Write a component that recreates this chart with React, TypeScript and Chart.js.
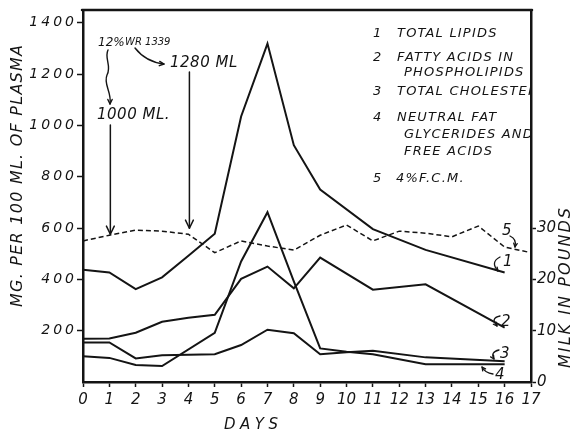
import React, { useEffect, useRef } from "react";
import { Chart, registerables } from "chart.js";

Chart.register(...registerables);

// ---------- data ----------
const DAYS = [0, 1, 2, 3, 4, 5, 6, 7, 8, 9, 10, 11, 12, 13, 14, 15, 16, 17];
// mg per 100 ml of plasma (null = no reading that day)
const TOTAL_LIPIDS = [438, 427, 362, 408, 492, 578, 1035, 1319, 923, 750, null, 596, null, 515, null, null, 427, null];
const PHOSPHOLIPID_FA = [169, 170, 192, 235, 250, 262, 402, 450, 365, 485, null, 360, null, 381, null, null, 212, null];
const TOTAL_CHOLESTEROL = [154, 154, 92, 104, null, 108, 144, 204, 190, 108, 116, 122, null, 96, null, null, 81, null];
const NEUTRAL_FAT = [100, 94, 66, 62, null, 192, 470, 662, 392, 131, 118, 108, null, 69, null, null, 69, null];
// milk, pounds of 4% fat-corrected milk
const MILK_FCM = [27.5, 28.6, 29.6, 29.4, 28.8, 25.2, 27.5, 26.5, 25.7, 28.6, 30.6, 27.5, 29.4, 29.0, 28.3, 30.4, 26.3, 25.2];

const LEFT_TICKS = [200, 400, 600, 800, 1000, 1200, 1400];
const RIGHT_TICKS = [0, 10, 20, 30];
const X_TICKS = DAYS;

const LEGEND_NUMBERS = ["1", "2", "3", "4", "5"];
const LEGEND_LINES = [
  ["TOTAL LIPIDS"],
  ["FATTY ACIDS IN", "PHOSPHOLIPIDS"],
  ["TOTAL CHOLESTEROL"],
  ["NEUTRAL FAT", "GLYCERIDES AND", "FREE ACIDS"],
  ["4%F.C.M."],
];

const Y_TITLE = "MG. PER 100 ML. OF PLASMA";
const Y2_TITLE = "MILK IN POUNDS";
const X_TITLE = "DAYS";
const DOSE_NOTE = "12%";
const DOSE_NOTE_2 = "WR 1339";
const DOSE_1 = "1000 ML.";
const DOSE_2 = "1280 ML";
const DOSE_DAYS = [1, 4];

const INK = "#141414";
const FAMILY = "'DejaVu Sans', sans-serif";

function pts(values: (number | null)[]) {
  return DAYS.map((d, i) => ({ x: d, y: values[i] })).filter((p) => p.y !== null && p.y !== undefined);
}

function arrowHead(ctx: CanvasRenderingContext2D, x: number, y: number, angle: number, size = 7) {
  ctx.beginPath();
  ctx.moveTo(x - size * Math.cos(angle - 0.45), y - size * Math.sin(angle - 0.45));
  ctx.lineTo(x, y);
  ctx.lineTo(x - size * Math.cos(angle + 0.45), y - size * Math.sin(angle + 0.45));
  ctx.stroke();
}

function font(size: number) {
  return `italic ${size}px ${FAMILY}`;
}

function fitText(ctx: CanvasRenderingContext2D, text: string, cx: number, cy: number, width: number) {
  ctx.letterSpacing = "0px";
  const m = ctx.measureText(text).width;
  const ls = Math.max(0, (width - m) / Math.max(1, text.length - 1));
  ctx.letterSpacing = ls + "px";
  ctx.textAlign = "left";
  ctx.fillText(text, cx - width / 2, cy);
  ctx.letterSpacing = "0px";
}

const plain = (v: any) => String(v);

const tickSpacing = {
  id: "tickSpacing",
  beforeDraw(chart: any) {
    const s = chart.scales.y;
    if (s && !s._spaced) {
      const orig = s.drawLabels;
      s.drawLabels = function (area: any) {
        const c = this.ctx;
        c.save();
        c.letterSpacing = "3px";
        orig.call(this, area);
        c.restore();
      };
      s._spaced = true;
    }
  },
};

const decorations = {
  id: "decorations",
  afterDraw(chart: any) {
    const ctx: CanvasRenderingContext2D = chart.ctx;
    const area = chart.chartArea;
    const xs = chart.scales.x;
    const y2 = chart.scales.y2;
    ctx.save();
    ctx.fillStyle = INK;
    ctx.strokeStyle = INK;
    ctx.lineCap = "round";
    ctx.lineJoin = "round";

    // top frame line
    ctx.lineWidth = 2.5;
    ctx.beginPath();
    ctx.moveTo(area.left - 1, area.top);
    ctx.lineTo(area.right + 1, area.top);
    ctx.stroke();

    // axis titles
    ctx.textBaseline = "middle";
    ctx.font = font(16);
    ctx.save();
    ctx.translate(18, 176);
    ctx.rotate(-Math.PI / 2);
    fitText(ctx, Y_TITLE, 0, 0, 262);
    ctx.restore();

    ctx.save();
    ctx.translate(566, 288);
    ctx.rotate(-Math.PI / 2);
    fitText(ctx, Y2_TITLE, 0, 0, 160);
    ctx.restore();

    ctx.font = font(15);
    fitText(ctx, X_TITLE, 251, 425, 54);

    // legend
    ctx.save();
    ctx.beginPath();
    ctx.rect(area.left, area.top, area.right - area.left - 1, area.bottom - area.top);
    ctx.clip();
    ctx.font = font(13);
    ctx.textAlign = "left";
    const rows = [34, 58, 92, 118, 179];
    const sub = [0, 15, 0, 17, 0];
    LEGEND_NUMBERS.forEach((n, i) => {
      ctx.letterSpacing = "0px";
      ctx.fillText(n, 373, rows[i]);
      ctx.letterSpacing = "1.2px";
      LEGEND_LINES[i].forEach((line, j) => {
        const x = j === 0 ? (i === 4 ? 396 : 397) : 404;
        ctx.fillText(line, x, rows[i] + j * sub[i]);
      });
    });
    ctx.letterSpacing = "0px";
    ctx.restore();

    // dose annotations
    ctx.lineWidth = 1.4;
    ctx.font = font(12);
    ctx.textAlign = "left";
    ctx.fillText(DOSE_NOTE, 98, 43);
    ctx.font = font(10);
    ctx.fillText(DOSE_NOTE_2, 125, 42);
    ctx.font = font(15);
    ctx.letterSpacing = "0.5px";
    ctx.fillText(DOSE_1, 97, 115);
    ctx.fillText(DOSE_2, 170, 63);
    ctx.letterSpacing = "0px";

    // squiggle from note to 1000 ML
    ctx.beginPath();
    ctx.moveTo(108, 50);
    ctx.bezierCurveTo(104, 58, 112, 66, 107, 75);
    ctx.bezierCurveTo(103, 84, 112, 92, 110, 104);
    ctx.stroke();
    arrowHead(ctx, 110, 104, Math.PI / 2, 5);

    // curved arrow to 1280 ML
    ctx.beginPath();
    ctx.moveTo(135, 48);
    ctx.quadraticCurveTo(146, 62, 164, 64);
    ctx.stroke();
    arrowHead(ctx, 164, 64, 0.1, 5);

    // vertical dose arrows
    const tops = [125, 72];
    DOSE_DAYS.forEach((d, i) => {
      const px = xs.getPixelForValue(d) + 1;
      const tip = y2.getPixelForValue(MILK_FCM[d]) - (i === 0 ? 1 : 6);
      ctx.lineWidth = 1.5;
      ctx.beginPath();
      ctx.moveTo(px, tops[i]);
      ctx.lineTo(px, tip);
      ctx.stroke();
      arrowHead(ctx, px, tip, Math.PI / 2, 9);
    });

    // series end labels
    ctx.font = font(15);
    ctx.lineWidth = 1.3;
    ctx.fillText("5", 502, 231);
    ctx.beginPath();
    ctx.moveTo(510, 236);
    ctx.quadraticCurveTo(517, 239, 515, 247);
    ctx.stroke();
    arrowHead(ctx, 515, 247, 1.7, 4);

    ctx.fillText("1", 503, 262);
    ctx.beginPath();
    ctx.moveTo(500, 257);
    ctx.quadraticCurveTo(490, 262, 498, 271);
    ctx.stroke();
    arrowHead(ctx, 498, 271, 0.9, 4);

    ctx.fillText("2", 501, 322);
    ctx.beginPath();
    ctx.moveTo(500, 316);
    ctx.quadraticCurveTo(490, 318, 497, 326);
    ctx.stroke();
    arrowHead(ctx, 497, 326, 0.9, 4);

    ctx.fillText("3", 500, 354);
    ctx.beginPath();
    ctx.moveTo(499, 350);
    ctx.quadraticCurveTo(490, 352, 494, 359);
    ctx.stroke();
    arrowHead(ctx, 494, 359, 1.0, 4);

    ctx.fillText("4", 495, 375);
    ctx.beginPath();
    ctx.moveTo(493, 374);
    ctx.quadraticCurveTo(485, 373, 482, 367);
    ctx.stroke();
    arrowHead(ctx, 482, 367, -2.2, 4);

    ctx.restore();
  },
};

export default function App() {
  const ref = useRef<HTMLCanvasElement | null>(null);

  useEffect(() => {
    if (!ref.current) return;
    const solid = (label: string, values: (number | null)[]) => ({
      label,
      data: pts(values),
      yAxisID: "y",
      borderColor: INK,
      borderWidth: 2,
      pointRadius: 0,
      tension: 0,
      fill: false,
    });
    const chart = new Chart(ref.current, {
      type: "line",
      data: {
        datasets: [
          solid("1 TOTAL LIPIDS", TOTAL_LIPIDS),
          solid("2 FATTY ACIDS IN PHOSPHOLIPIDS", PHOSPHOLIPID_FA),
          solid("3 TOTAL CHOLESTEROL", TOTAL_CHOLESTEROL),
          solid("4 NEUTRAL FAT GLYCERIDES AND FREE ACIDS", NEUTRAL_FAT),
          {
            label: "5 4%F.C.M.",
            data: pts(MILK_FCM),
            yAxisID: "y2",
            borderColor: INK,
            borderWidth: 1.5,
            borderDash: [5, 3],
            pointRadius: 0,
            tension: 0,
            fill: false,
          },
        ],
      },
      options: {
        responsive: false,
        animation: false,
        devicePixelRatio: 1,
        layout: { padding: { top: 5, left: 0, right: 0, bottom: 0 } },
        plugins: { legend: { display: false }, tooltip: { enabled: false }, title: { display: false } },
        scales: {
          x: {
            type: "linear",
            position: "bottom",
            min: 0,
            max: 17,
            afterBuildTicks: (s: any) => {
              s.ticks = X_TICKS.map((v) => ({ value: v }));
            },
            afterFit: (s: any) => {
              s.height = 55;
            },
            ticks: {
              autoSkip: false,
              maxRotation: 0,
              padding: 4,
              color: INK,
              callback: plain,
              font: { family: FAMILY, style: "italic", size: 15 },
            },
            grid: { drawOnChartArea: false, tickLength: 5, tickWidth: 1.5, color: INK },
            border: { display: true, width: 2.5, color: INK },
          },
          y: {
            type: "linear",
            position: "left",
            min: 0,
            max: 1450,
            afterBuildTicks: (s: any) => {
              s.ticks = LEFT_TICKS.map((v) => ({ value: v }));
            },
            afterFit: (s: any) => {
              s.width = 83;
            },
            ticks: {
              padding: 0,
              color: INK,
              callback: plain,
              font: { family: FAMILY, style: "italic", size: 14 },
            },
            grid: { drawOnChartArea: false, tickLength: 6, tickWidth: 1.5, color: INK },
            border: { display: true, width: 2.5, color: INK },
          },
          y2: {
            type: "linear",
            position: "right",
            min: 0,
            max: 72.5,
            afterBuildTicks: (s: any) => {
              s.ticks = RIGHT_TICKS.map((v) => ({ value: v }));
            },
            afterFit: (s: any) => {
              s.width = 44;
            },
            ticks: {
              padding: 1,
              color: INK,
              callback: plain,
              font: { family: FAMILY, style: "italic", size: 15 },
            },
            grid: { drawOnChartArea: false, tickLength: 5, tickWidth: 1.5, color: INK },
            border: { display: true, width: 2.5, color: INK },
          },
        },
      },
      plugins: [tickSpacing, decorations],
    } as any);
    return () => chart.destroy();
  }, []);

  return (
    <div style={{ position: "fixed", left: 0, top: 0, width: 575, height: 437, background: "#fff" }}>
      <canvas ref={ref} width={575} height={437} style={{ display: "block", width: 575, height: 437 }} />
    </div>
  );
}
